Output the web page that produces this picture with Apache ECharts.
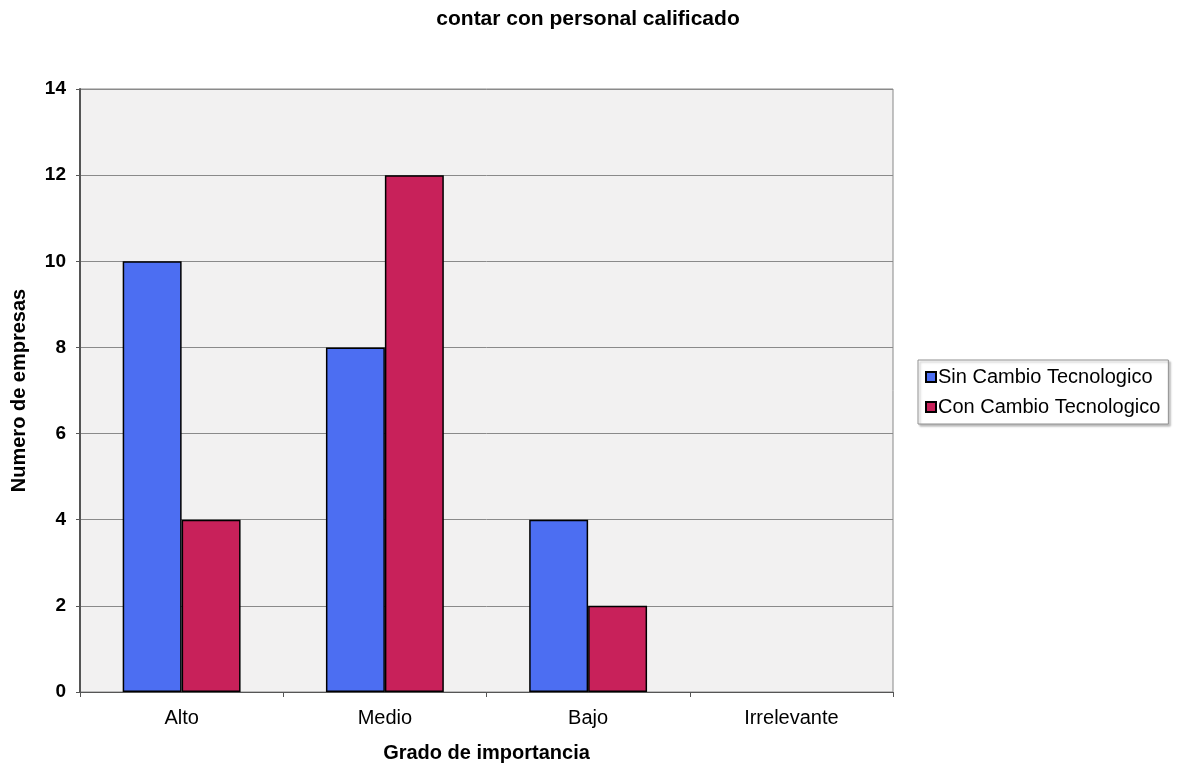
<!DOCTYPE html>
<html>
<head>
<meta charset="utf-8">
<script src="https://cdn.jsdelivr.net/npm/echarts@6/dist/echarts.min.js"></script>
<style>
  html, body { margin: 0; padding: 0; background: #ffffff; }
  #chart { width: 1184px; height: 766px; }
</style>
</head>
<body>
<div id="chart"></div>
<script>
// Importance levels and company counts per group
const categories = ['Alto', 'Medio', 'Bajo', 'Irrelevante'];
const sinCambio = [10, 8, 4, 0];
const conCambio = [4, 12, 2, 0];
const seriesNames = ['Sin Cambio Tecnologico', 'Con Cambio Tecnologico'];

const chart = echarts.init(document.getElementById('chart'));
const font = 'Liberation Sans, Arial, sans-serif';

// Empty bars get no outline so nothing shows on the baseline
const asBars = (values) => values.map(v => v === 0 ? { value: v, itemStyle: { borderWidth: 0 } } : v);

chart.setOption({
  animation: false,
  backgroundColor: '#ffffff',
  title: {
    text: 'contar con personal calificado',
    left: 583,
    top: 4,
    textAlign: 'center',
    textStyle: { fontFamily: font, fontSize: 21, fontWeight: 'bold', color: '#000' }
  },
  legend: {
    orient: 'vertical',
    left: 918,
    top: 360,
    padding: [7, 8, 7, 7],
    itemGap: 10,
    itemWidth: 10,
    itemHeight: 10,
    icon: 'rect',
    borderColor: '#909090',
    borderWidth: 1,
    backgroundColor: '#ffffff',
    shadowColor: 'rgba(0,0,0,0.25)',
    shadowOffsetX: 2,
    shadowOffsetY: 2,
    shadowBlur: 2,
    textStyle: { fontFamily: font, fontSize: 20, color: '#000', padding: [0, 0, 0, -3] },
    data: seriesNames
  },
  grid: {
    left: 80, right: 291, top: 89, bottom: 74,
    outerBoundsMode: 'none',
    containLabel: false,
    show: true,
    backgroundColor: '#f2f1f1',
    borderColor: '#888888',
    borderWidth: 1
  },
  xAxis: {
    type: 'category',
    data: categories,
    name: 'Grado de importancia',
    nameLocation: 'middle',
    nameGap: 51,
    nameTextStyle: { fontFamily: font, fontSize: 20, fontWeight: 'bold', color: '#000' },
    axisLine: { lineStyle: { color: '#555', width: 1 } },
    axisTick: { show: true, length: 5, lineStyle: { color: '#555' } },
    axisLabel: { fontFamily: font, fontSize: 20, color: '#000', margin: 16 }
  },
  yAxis: {
    type: 'value',
    min: 0,
    max: 14,
    interval: 2,
    name: 'Numero de empresas',
    nameLocation: 'middle',
    nameGap: 51,
    nameTextStyle: { fontFamily: font, fontSize: 20, fontWeight: 'bold', color: '#000' },
    axisLine: { show: true, lineStyle: { color: '#555', width: 2 } },
    axisTick: { show: true, length: 4, lineStyle: { color: '#555' } },
    axisLabel: { fontFamily: font, fontSize: 19, fontWeight: 'bold', color: '#000', margin: 14 },
    splitLine: { lineStyle: { color: '#8a8a8a', width: 1 } }
  },
  series: [
    {
      name: seriesNames[0],
      type: 'bar',
      data: asBars(sinCambio),
      barWidth: '29%',
      barGap: '0%',
      itemStyle: { color: '#4c6ef2', borderColor: '#000', borderWidth: 1.5 }
    },
    {
      name: seriesNames[1],
      type: 'bar',
      data: asBars(conCambio),
      barWidth: '29%',
      barGap: '0%',
      itemStyle: { color: '#c8215a', borderColor: '#000', borderWidth: 1.5 }
    }
  ]
});
</script>
</body>
</html>
